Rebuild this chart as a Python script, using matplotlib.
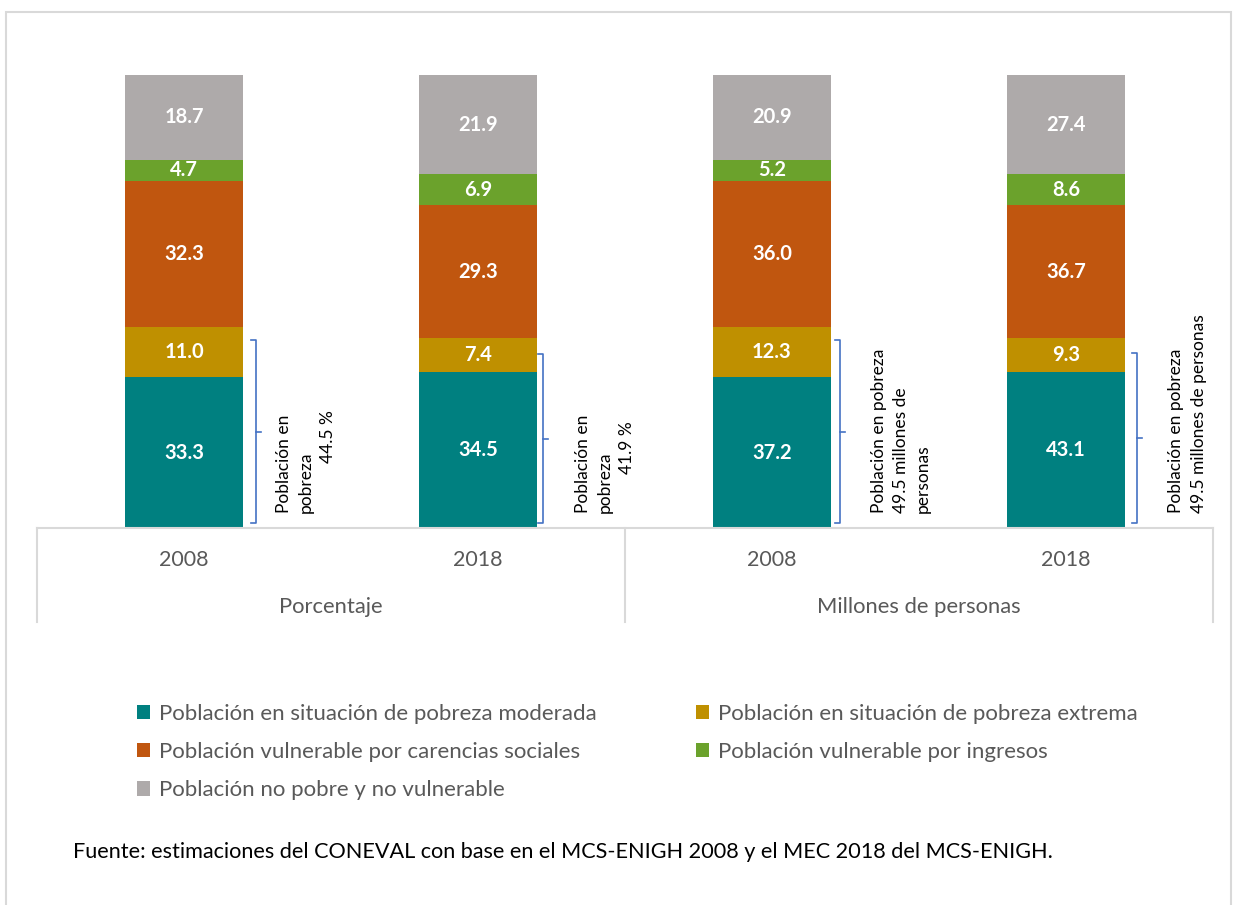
import numpy as np
import matplotlib.pyplot as plt
from matplotlib.patches import Rectangle

plt.rcParams['font.family'] = ['Lato', 'DejaVu Sans']

years = ['2008', '2018', '2008', '2018']
groups = ['Porcentaje', 'Millones de personas']
series = [
    'Población en situación de pobreza moderada',
    'Población en situación de pobreza extrema',
    'Población vulnerable por carencias sociales',
    'Población vulnerable por ingresos',
    'Población no pobre y no vulnerable',
]
moderada = [33.3, 34.5, 37.2, 43.1]
extrema = [11.0, 7.4, 12.3, 9.3]
carencias = [32.3, 29.3, 36.0, 36.7]
ingresos = [4.7, 6.9, 5.2, 8.6]
no_pobre = [18.7, 21.9, 20.9, 27.4]
colors = ['#008080', '#BF9000', '#C0560F', '#6BA22C', '#AEAAAA']

pobreza_notes = [
    ['Población en', 'pobreza', '44.5 %'],
    ['Población en', 'pobreza', '41.9 %'],
    ['Población en pobreza', '49.5 millones de', 'personas'],
    ['Población en pobreza', '49.5 millones de personas'],
]

W, H = 1233, 905
fig = plt.figure(figsize=(W / 100, H / 100), dpi=100)
ax = fig.add_axes([37 / W, 1 - 528 / H, 1176 / W, 453 / H])

vals = np.array([moderada, extrema, carencias, ingresos, no_pobre])
totals = vals.sum(axis=0)
shares = vals / totals * 100
x = np.arange(len(years))
width = 0.4

bars = []
bottom = np.zeros(len(years))
for i in range(len(series)):
    b = ax.bar(x, shares[i], width, bottom=bottom, color=colors[i], label=series[i])
    bars.append(b)
    for xi, s, b0, v in zip(x, shares[i], bottom, vals[i]):
        ax.text(xi, b0 + s / 2, f'{v:.1f}', ha='center', va='center',
                color='white', fontsize=14.5, fontweight='bold')
    bottom += shares[i]

ax.set_xlim(-0.5, 3.5)
ax.set_ylim(0, 100)
ax.set_yticks([])
ax.set_xticks([])
for sp in ['top', 'left', 'right']:
    ax.spines[sp].set_visible(False)
ax.spines['bottom'].set_color('#D9D9D9')
ax.spines['bottom'].set_linewidth(1.5)

# category axis boxes
px = 100 / 453
for xv in [-0.5, 1.5, 3.5]:
    ax.plot([xv, xv], [0, -94 * px], color='#D9D9D9', lw=1.5, clip_on=False)
for xi, yr in zip(x, years):
    ax.text(xi, -32 * px, yr, ha='center', va='center', fontsize=15.5, color='#595959')
for gi, g in enumerate(groups):
    ax.text(2 * gi + 0.5, -79 * px, g, ha='center', va='center', fontsize=15.8, color='#595959')

# brackets and notes
bracket_off = [0.044, 0.02, 0.03, 0.04]
top_gap = [13, 16, 13, 15]
line_off = [[46, 68, 90], [51, 73, 95], [53, 75, 97], [56, 79]]
xs = 1 / 294
for i in range(len(years)):
    pov = shares[0][i] + shares[1][i]
    bx = x[i] + width / 2 + bracket_off[i]
    y0, y1 = 5 * px, pov - top_gap[i] * px
    ym = (y0 + y1) / 2
    ax.plot([bx - 5 * xs, bx, bx, bx - 5 * xs], [y0, y0, y1, y1], color='#4472C4', lw=1.2, clip_on=False)
    ax.plot([bx, bx + 5 * xs], [ym, ym], color='#4472C4', lw=1.2, clip_on=False)
    for j, line in enumerate(pobreza_notes[i]):
        lx = x[i] + width / 2 + line_off[i][j] * xs
        if i < 2 and j == 2:
            ax.text(lx, pov - 83 * px, line, rotation=90, rotation_mode='anchor',
                    ha='right', va='baseline', fontsize=12.5, color='black')
        else:
            ax.text(lx, 15 * px, line, rotation=90, rotation_mode='anchor',
                    ha='left', va='baseline', fontsize=12.5, color='black')

# legend
order = [0, 2, 4, 1, 3]
leg = fig.legend([bars[k] for k in order], [series[k] for k in order],
                 loc='upper left', bbox_to_anchor=(128 / W, 1 - 695 / H), ncol=2,
                 frameon=False, fontsize=16, handlelength=0.6, handleheight=0.6,
                 handletextpad=0.4, labelspacing=0.82, columnspacing=4.45, borderaxespad=0)
for t in leg.get_texts():
    t.set_color('#595959')

fig.text(73 / W, 1 - 852 / H,
         'Fuente: estimaciones del CONEVAL con base en el MCS-ENIGH 2008 y el MEC 2018 del MCS-ENIGH.',
         ha='left', va='center', fontsize=15.6, color='black')

fig.patches.append(Rectangle((6 / W, -0.05), 1225 / W, 1.05 - 12 / H, transform=fig.transFigure,
                             fill=False, edgecolor='#D9D9D9', lw=1.5))

fig.savefig('out.png', dpi=100)
